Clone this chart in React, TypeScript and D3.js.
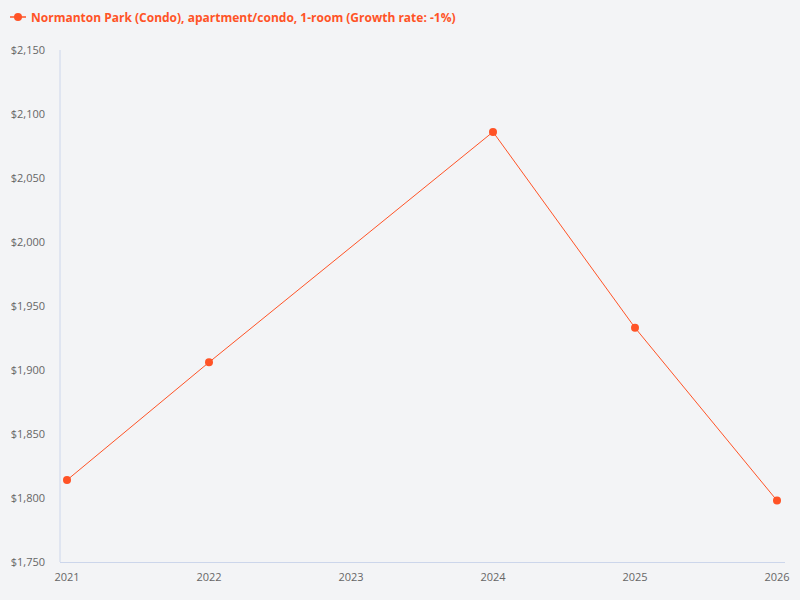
import React from "react";
import * as d3 from "d3";

const years = [2021, 2022, 2023, 2024, 2025, 2026];
const values: (number | null)[] = [1814, 1906, null, 2086, 1933, 1798];
const yTicks = [1750, 1800, 1850, 1900, 1950, 2000, 2050, 2100, 2150];
const seriesName = "Normanton Park (Condo), apartment/condo, 1-room (Growth rate: -1%)";

const W = 800;
const H = 600;
const color = "#ff5326";
const font = "'Open Sans', sans-serif";

export default function App() {
  const x = d3.scaleLinear().domain([2021, 2026]).range([67, 777]);
  const y = d3.scaleLinear().domain([1750, 2150]).range([562, 50]);
  const pts = years
    .map((yr, i) => ({ yr, v: values[i] }))
    .filter((d) => d.v !== null) as { yr: number; v: number }[];
  const line = d3
    .line<{ yr: number; v: number }>()
    .x((d) => x(d.yr))
    .y((d) => y(d.v));
  const fmt = (v: number) => "$" + d3.format(",")(v);

  return (
    <svg
      width={W}
      height={H}
      style={{ position: "absolute", left: 0, top: 0, fontFamily: font }}
    >
      <rect x={0} y={0} width={W} height={H} fill="#f3f4f6" />
      {/* legend */}
      <line x1={10} x2={26} y1={17} y2={17} stroke={color} strokeWidth={1.5} />
      <circle cx={18} cy={17} r={4} fill={color} />
      <text x={31} y={21.5} fontSize={12} fontWeight={700} fill={color}>
        {seriesName}
      </text>
      {/* axes */}
      <line x1={60} x2={60} y1={50} y2={562} stroke="#ccd6eb" strokeWidth={1} />
      <line x1={60} x2={785} y1={562.5} y2={562.5} stroke="#ccd6eb" strokeWidth={1} />
      {yTicks.map((t) => (
        <text
          key={t}
          x={45}
          y={y(t) + 4}
          fontSize={11}
          fill="#666666"
          textAnchor="end"
        >
          {fmt(t)}
        </text>
      ))}
      {years.map((yr) => (
        <text
          key={yr}
          x={x(yr)}
          y={581}
          fontSize={11}
          fill="#666666"
          textAnchor="middle"
        >
          {yr}
        </text>
      ))}
      <path d={line(pts) || ""} fill="none" stroke={color} strokeWidth={1} />
      {pts.map((d) => (
        <circle key={d.yr} cx={x(d.yr)} cy={y(d.v)} r={4} fill={color} />
      ))}
    </svg>
  );
}
